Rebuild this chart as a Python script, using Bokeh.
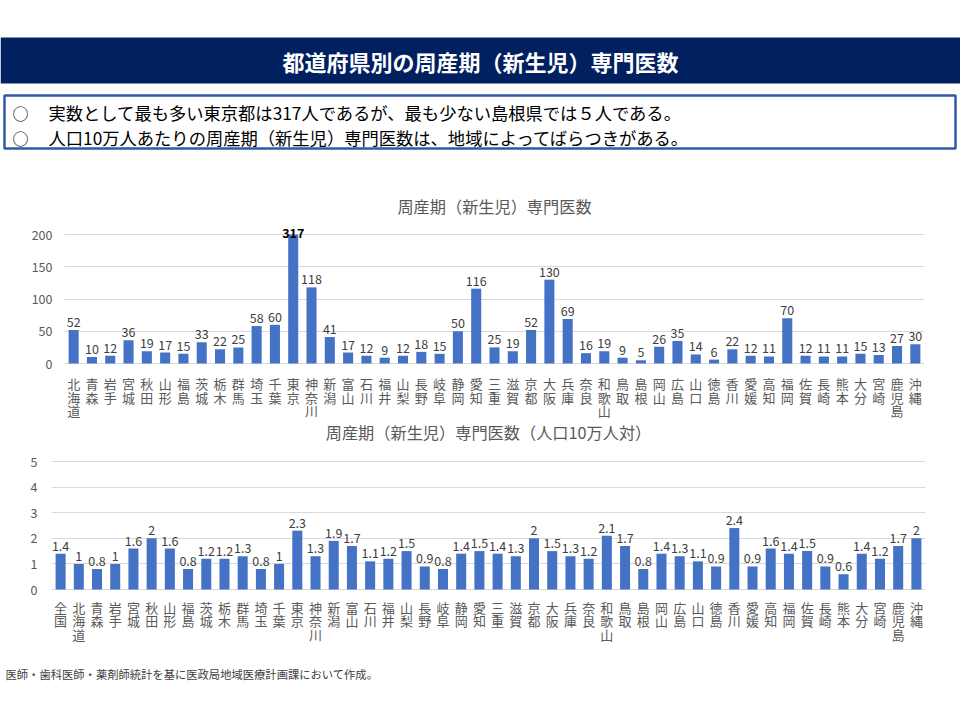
from bokeh.plotting import figure
from bokeh.models import Range1d, ColumnDataSource, FixedTicker
from bokeh.core.properties import value
from bokeh.embed import file_html
from bokeh.resources import INLINE

FONT = "Noto Sans CJK JP"

# ---------------- data ----------------
prefs = ["北海道", "青森", "岩手", "宮城", "秋田", "山形", "福島", "茨城", "栃木", "群馬",
         "埼玉", "千葉", "東京", "神奈川", "新潟", "富山", "石川", "福井", "山梨", "長野",
         "岐阜", "静岡", "愛知", "三重", "滋賀", "京都", "大阪", "兵庫", "奈良", "和歌山",
         "鳥取", "島根", "岡山", "広島", "山口", "徳島", "香川", "愛媛", "高知", "福岡",
         "佐賀", "長崎", "熊本", "大分", "宮崎", "鹿児島", "沖縄"]
counts = [52, 10, 12, 36, 19, 17, 15, 33, 22, 25,
          58, 60, 317, 118, 41, 17, 12, 9, 12, 18,
          15, 50, 116, 25, 19, 52, 130, 69, 16, 19,
          9, 5, 26, 35, 14, 6, 22, 12, 11, 70,
          12, 11, 11, 15, 13, 27, 30]
rate_cats = ["全国"] + prefs
rates = [1.4, 1, 0.8, 1, 1.6, 2, 1.6, 0.8, 1.2, 1.2,
         1.3, 0.8, 1, 2.3, 1.3, 1.9, 1.7, 1.1, 1.2, 1.5,
         0.9, 0.8, 1.4, 1.5, 1.4, 1.3, 2, 1.5, 1.3, 1.2,
         2.1, 1.7, 0.8, 1.4, 1.3, 1.1, 0.9, 2.4, 0.9, 1.6,
         1.4, 1.5, 0.9, 0.6, 1.4, 1.2, 1.7, 2]
top_ticks = [0, 50, 100, 150, 200]
bottom_ticks = [0, 1, 2, 3, 4, 5]
top_max = 200
bottom_max = 5

title_main = "都道府県別の周産期（新生児）専門医数"
bullets = ["実数として最も多い東京都は317人であるが、最も少ない島根県では５人である。",
           "人口10万人あたりの周産期（新生児）専門医数は、地域によってばらつきがある。"]
chart1_title = "周産期（新生児）専門医数"
chart2_title = "周産期（新生児）専門医数（人口10万人対）"
footnote = "医師・歯科医師・薬剤師統計を基に医政局地域医療計画課において作成。"

W = 960
BAR = "#4472C4"
GRID = "#D9D9D9"
GRAY = "#595959"


def blank(h):
    f = figure(width=W, height=h, output_backend="svg", toolbar_location=None,
               x_range=Range1d(0, W), y_range=Range1d(h, 0),
               min_border=0, outline_line_color=None)
    f.axis.visible = False
    f.grid.visible = False
    return f


# ---------------- header (page y 0..160) ----------------
hdr = blank(160)
hdr.quad(left=0, right=W, top=37, bottom=83, fill_color="#002060", line_color=None)
hdr.text(x=[480], y=[60], text=[title_main], text_color="white",
         text_font=value(FONT), text_font_size="22px", text_font_style="bold",
         text_align="center", text_baseline="middle")
hdr.quad(left=4, right=955, top=95, bottom=148, fill_color="white",
         line_color="#2E5AA8", line_width=2.5)
hdr.text(x=[12, 12], y=[112, 137], text=["○", "○"], text_color="black",
         text_font=value(FONT), text_font_size="16px",
         text_align="left", text_baseline="middle")
hdr.text(x=[48, 48], y=[112, 137], text=bullets, text_color="black",
         text_font=value(FONT), text_font_size="17.3px",
         text_align="left", text_baseline="middle")


def bar_chart(cats, vals, vmax, ticks, title, h, left, right, y_top, y_zero,
              title_y, lab_gap, lab_step, standoff, label_fmt):
    # frame covers the full height; pixel geometry -> data range
    s = (y_zero - y_top) / vmax          # px per unit
    ystart = -(h - y_zero) / s
    yend = vmax + y_top / s
    p = figure(x_range=cats, y_range=Range1d(ystart, yend), width=W, height=h,
               output_backend="svg", toolbar_location=None,
               min_border_left=left, min_border_right=right,
               min_border_top=0, min_border_bottom=0,
               outline_line_color=None)
    p.x_range.range_padding = 0
    shown = [min(v, vmax) for v in vals]
    labels = [label_fmt(v) for v in vals]
    styles = ["bold" if v > vmax else "normal" for v in vals]
    colors = ["#000000" if v > vmax else "#404040" for v in vals]
    gaps = [2 if v > vmax else 8 for v in vals]
    src = ColumnDataSource(dict(x=cats, top=shown, ly=[t + g / s for t, g in zip(shown, gaps)],
                                lab=labels, st=styles, col=colors))
    p.vbar(x="x", top="top", bottom=0, width=0.55, source=src, fill_color=BAR,
           line_color=None)
    p.text(x="x", y="ly", text="lab", source=src, text_align="center",
           text_baseline="alphabetic", text_font=value(FONT),
           text_font_size="12.5px", text_color="col", text_font_style="st")
    # category labels, one character per line
    cx, cy, ct = [], [], []
    for c in cats:
        for k, ch in enumerate(c):
            cx.append(c)
            cy.append(-(lab_gap + k * lab_step) / s)
            ct.append(ch)
    p.text(x=cx, y=cy, text=ct, text_align="center", text_baseline="middle",
           text_font=value(FONT), text_font_size="13px", text_color=GRAY)
    # chart title
    p.text(x=[len(cats) / 2], y=[vmax + (y_top - title_y) / s], text=[title],
           text_align="center", text_baseline="middle", text_font=value(FONT),
           text_font_size="16.2px", text_color=GRAY)
    p.yaxis.ticker = FixedTicker(ticks=ticks)
    p.yaxis.axis_line_color = None
    p.yaxis.major_tick_line_color = None
    p.yaxis.major_tick_out = 0
    p.yaxis.major_tick_in = 0
    p.yaxis.minor_tick_line_color = None
    p.yaxis.minor_tick_out = 0
    p.yaxis.major_label_text_font = FONT
    p.yaxis.major_label_text_font_size = "12.5px"
    p.yaxis.major_label_text_color = GRAY
    p.yaxis.major_label_standoff = standoff
    p.xaxis.visible = False
    p.xgrid.grid_line_color = None
    p.ygrid.grid_line_color = GRID
    p.ygrid.ticker = FixedTicker(ticks=ticks)
    return p


def fmt_int(v):
    return str(v)


def fmt_rate(v):
    return "%g" % v


# top chart: page y 160..420
top_chart = bar_chart(prefs, counts, top_max, top_ticks, chart1_title,
                      h=260, left=64, right=36, y_top=74, y_zero=203,
                      title_y=45, lab_gap=20, lab_step=13.5, standoff=12,
                      label_fmt=fmt_int)
# bottom chart: page y 420..660
bottom_chart = bar_chart(rate_cats, rates, bottom_max, bottom_ticks, chart2_title,
                         h=240, left=51, right=35, y_top=41, y_zero=169,
                         title_y=11, lab_gap=18, lab_step=13.3, standoff=14,
                         label_fmt=fmt_rate)

# footnote: page y 660..715
foot = blank(55)
foot.text(x=[5], y=[13], text=[footnote], text_color="#404040",
          text_font=value(FONT), text_font_size="11.3px",
          text_align="left", text_baseline="middle")

open("out.html", "w").write(file_html([hdr, top_chart, bottom_chart, foot], INLINE))
